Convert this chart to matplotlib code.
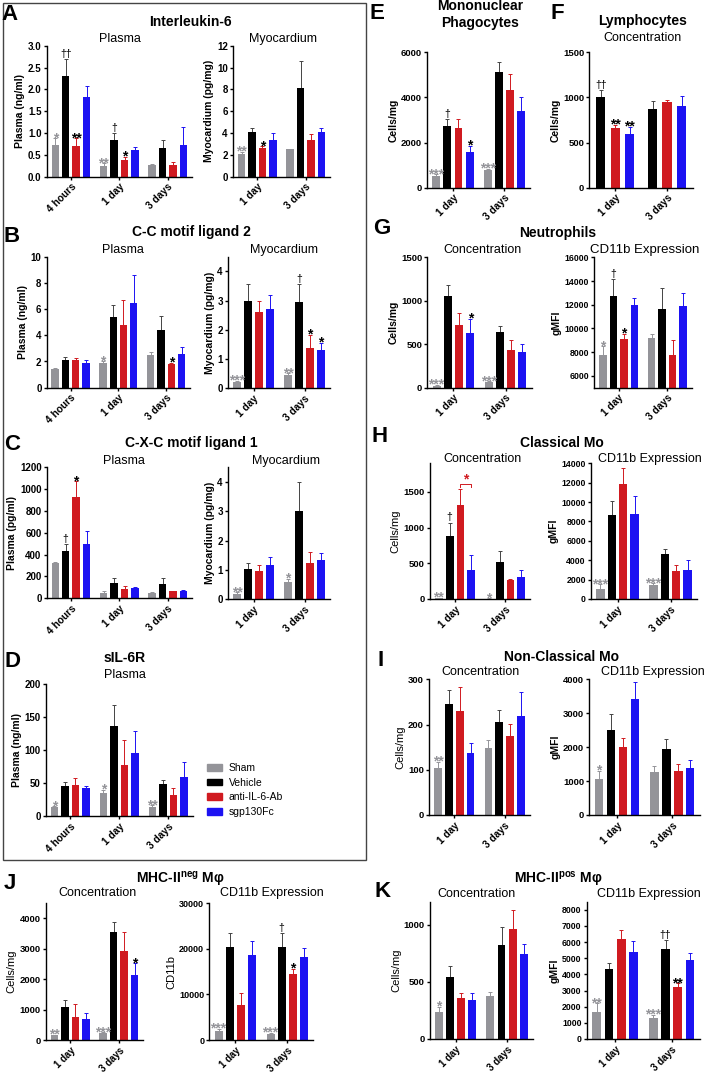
import matplotlib
matplotlib.use("Agg")
import matplotlib.pyplot as plt
from matplotlib.patches import Patch, Rectangle
import numpy as np

plt.rcParams['font.family'] = ['Liberation Sans', 'DejaVu Sans']
plt.rcParams['mathtext.fontset'] = 'custom'
plt.rcParams['mathtext.rm'] = 'Liberation Sans'
plt.rcParams['mathtext.bf'] = 'Liberation Sans:bold'

W, H = 706, 1072
fig = plt.figure(figsize=(W / 100, H / 100), dpi=100)

series = ["Sham", "Vehicle", "anti-IL-6-Ab", "sgp130Fc"]
colors = ["#949499", "#000000", "#d01a20", "#1c12f2"]

times3 = ["4 hours", "1 day", "3 days"]
times2 = ["1 day", "3 days"]

# ---- data: bar means and tops of error bars, per group [Sham, Vehicle, anti-IL-6-Ab, sgp130Fc]
a_plasma = [[0.73, 2.30, 0.70, 1.83], [0.24, 0.83, 0.39, 0.61], [0.26, 0.65, 0.27, 0.72]]
a_plasma_top = [[0.88, 2.70, 0.88, 2.07], [0.31, 1.00, 0.45, 0.69], [0.30, 0.85, 0.33, 1.13]]
a_myo = [[2.1, 4.1, 2.6, 3.4], [2.5, 8.15, 3.4, 4.1]]
a_myo_top = [[2.3, 4.5, 2.8, 4.0], [2.55, 10.6, 3.95, 4.5]]

b_plasma = [[1.4, 2.1, 2.1, 1.9], [1.85, 5.4, 4.8, 6.5], [2.5, 4.4, 1.8, 2.6]]
b_plasma_top = [[1.5, 2.35, 2.25, 2.15], [2.0, 6.3, 6.7, 8.6], [2.7, 5.5, 1.9, 3.1]]
b_myo = [[0.22, 3.0, 2.6, 2.7], [0.45, 2.95, 1.38, 1.3]]
b_myo_top = [[0.25, 3.55, 3.0, 3.2], [0.52, 3.55, 1.82, 1.55]]

c_plasma = [[325, 432, 928, 500], [51, 143, 85, 90], [46, 128, 64, 64]]
c_plasma_top = [[337, 495, 1072, 620], [67, 190, 115, 100], [58, 183, 70, 73]]
c_myo = [[0.18, 1.02, 0.95, 1.17], [0.57, 3.0, 1.22, 1.35]]
c_myo_top = [[0.24, 1.22, 1.15, 1.45], [0.70, 4.0, 1.62, 1.58]]

d_plasma = [[13, 45, 47, 42], [35, 136, 78, 95], [14, 48, 32, 59]]
d_plasma_top = [[15, 52, 57, 46], [40, 168, 115, 129], [16, 55, 42, 82]]

e_conc = [[520, 2750, 2650, 1570], [780, 5130, 4350, 3420]]
e_conc_top = [[600, 3050, 3050, 1850], [830, 5570, 5050, 4000]]

f_conc = [[1005, 665, 595], [870, 945, 910]]          # Vehicle, anti-IL-6-Ab, sgp130Fc
f_conc_top = [[1080, 700, 675], [965, 975, 1020]]

g_conc = [[25, 1060, 720, 630], [60, 640, 430, 415]]
g_conc_top = [[35, 1180, 860, 790], [75, 710, 545, 500]]
g_cd11b = [[7750, 12750, 9150, 12000], [9200, 11650, 7800, 11900]]
g_cd11b_top = [[8500, 14150, 9550, 12600], [9550, 13450, 9050, 12950]]

h_conc = [[10, 880, 1310, 400], [6, 520, 260, 305]]
h_conc_top = [[15, 1070, 1545, 615], [9, 670, 285, 400]]
h_cd11b = [[1050, 8700, 11850, 8800], [1400, 4600, 2900, 3000]]
h_cd11b_top = [[1500, 10100, 13500, 10650], [1600, 5200, 3500, 4000]]

i_conc = [[105, 246, 231, 136], [149, 206, 174, 219]]
i_conc_top = [[117, 276, 284, 159], [165, 232, 201, 272]]
i_cd11b = [[1050, 2520, 2000, 3420], [1260, 1940, 1310, 1380]]
i_cd11b_top = [[1300, 2970, 2260, 3920], [1440, 2230, 1490, 1610]]

j_conc = [[150, 1080, 750, 680], [240, 3570, 2930, 2140]]
j_conc_top = [[170, 1310, 1180, 880], [260, 3900, 3560, 2530]]
j_cd11b = [[1900, 20300, 7700, 18700], [1300, 20300, 14500, 18300]]
j_cd11b_top = [[2500, 23500, 10300, 21800], [1600, 23500, 15600, 20200]]

k_conc = [[235, 540, 355, 340], [375, 820, 965, 740]]
k_conc_top = [[280, 635, 400, 400], [410, 975, 1130, 830]]
k_cd11b = [[1700, 4350, 6180, 5400], [1330, 5550, 3200, 4880]]
k_cd11b_top = [[2200, 4700, 6750, 6080], [1500, 6100, 3450, 5320]]

# significance marks: (group index, series name, symbol)
a_plasma_sig = [(0, "Sham", "*"), (0, "Vehicle", "††"), (0, "anti-IL-6-Ab", "**"),
                (1, "Sham", "**"), (1, "Vehicle", "†"), (1, "anti-IL-6-Ab", "*")]
a_myo_sig = [(0, "Sham", "**"), (0, "anti-IL-6-Ab", "*")]
b_plasma_sig = [(1, "Sham", "*"), (2, "anti-IL-6-Ab", "*")]
b_myo_sig = [(0, "Sham", "***"), (1, "Sham", "**"), (1, "Vehicle", "†"),
             (1, "anti-IL-6-Ab", "*"), (1, "sgp130Fc", "*")]
c_plasma_sig = [(0, "Vehicle", "†"), (0, "anti-IL-6-Ab", "*")]
c_myo_sig = [(0, "Sham", "**"), (1, "Sham", "*")]
d_plasma_sig = [(0, "Sham", "*"), (1, "Sham", "*"), (2, "Sham", "**")]
e_sig = [(0, "Sham", "***"), (0, "Vehicle", "†"), (0, "sgp130Fc", "*"), (1, "Sham", "***")]
f_sig = [(0, "Vehicle", "††"), (0, "anti-IL-6-Ab", "**"), (0, "sgp130Fc", "**")]
g_conc_sig = [(0, "Sham", "***"), (0, "sgp130Fc", "*"), (1, "Sham", "***")]
g_cd11b_sig = [(0, "Sham", "*"), (0, "Vehicle", "†"), (0, "anti-IL-6-Ab", "*")]
h_conc_sig = [(0, "Sham", "**"), (0, "Vehicle", "†"), (1, "Sham", "*")]
h_cd11b_sig = [(0, "Sham", "***"), (1, "Sham", "***")]
i_conc_sig = [(0, "Sham", "**")]
i_cd11b_sig = [(0, "Sham", "*")]
j_conc_sig = [(0, "Sham", "**"), (1, "Sham", "***"), (1, "sgp130Fc", "*")]
j_cd11b_sig = [(0, "Sham", "***"), (1, "Sham", "***"), (1, "Vehicle", "†"), (1, "anti-IL-6-Ab", "*")]
k_conc_sig = [(0, "Sham", "*")]
k_cd11b_sig = [(0, "Sham", "**"), (1, "Sham", "***"), (1, "Vehicle", "††"), (1, "anti-IL-6-Ab", "**")]


def px_axes(l, t, r, b):
    return fig.add_axes([l / W, 1 - b / H, (r - l) / W, (b - t) / H])


def ftext(x, y, s, **kw):
    fig.text(x / W, 1 - y / H, s, ha=kw.pop('ha', 'center'), va=kw.pop('va', 'center'), **kw)


def panel(box, cats, means, tops, ylim, yticks, ylabel, sigs=(), names=series,
          tick_fs=7, xt_fs=7.3, yl_fs=7.5, yl_bold=True, fmt=None, xlim=None):
    ax = px_axes(*box)
    n = len(names)
    if n == 4:
        pitch, width = 0.215, 0.155
    else:
        pitch, width = 0.28, 0.18
    offs = (np.arange(n) - (n - 1) / 2) * pitch
    x = np.arange(len(cats))
    pos = {}
    for j, nm in enumerate(names):
        c = colors[series.index(nm)]
        m = np.array([g[j] for g in means], float)
        tp = np.array([g[j] for g in tops], float)
        ax.bar(x + offs[j], m, width, color=c, zorder=2, linewidth=0)
        ecol = '#444444' if nm == "Vehicle" else c
        ax.errorbar(x + offs[j], m, yerr=[np.zeros_like(m), tp - m], fmt='none', ecolor=ecol,
                    elinewidth=0.7, capsize=1.3, capthick=0.7, zorder=1)
        for gi in range(len(cats)):
            pos[(gi, nm)] = (x[gi] + offs[j], tp[gi])
    for gi, nm, sym in sigs:
        xx, yy = pos[(gi, nm)]
        col = colors[0] if nm == "Sham" else "black"
        if "†" in sym:
            ax.annotate(sym, (xx, yy), xytext=(0, 1.6), textcoords='offset points',
                        ha='center', va='baseline', fontsize=7.5, color=col, annotation_clip=False)
        else:
            ax.annotate(sym, (xx, yy), xytext=(0, -2.8), textcoords='offset points',
                        ha='center', va='baseline', fontsize=10, fontweight='bold', color=col,
                        annotation_clip=False)
    ax.set_ylim(*ylim)
    ax.set_yticks(yticks)
    if fmt:
        ax.set_yticklabels([fmt.format(v) for v in yticks])
    ax.set_xticks(x)
    ax.set_xticklabels(cats, rotation=45, ha='right', rotation_mode='anchor',
                       fontsize=xt_fs, fontweight='bold')
    if xlim is None:
        xlim = (-0.5, len(cats) - 0.5)
    ax.set_xlim(*xlim)
    for s in ('top', 'right'):
        ax.spines[s].set_visible(False)
    for s in ('left', 'bottom'):
        ax.spines[s].set_linewidth(1.0)
    ax.tick_params(axis='both', length=2.5, width=1.0, pad=1.2)
    ax.tick_params(axis='y', labelsize=tick_fs)
    for lab in ax.get_yticklabels():
        lab.set_fontweight('bold')
    ax.set_ylabel(ylabel, fontsize=yl_fs, fontweight='bold' if yl_bold else 'normal', labelpad=2)
    return ax, pos


# ---------- outer box around A-D
fig.patches.append(Rectangle((2.5 / W, 1 - 859.5 / H), (366 - 2.5) / W, (859.5 - 3) / H,
                             transform=fig.transFigure, fill=False, edgecolor='#444444',
                             linewidth=1.0))

# ---------- A
panel((46.7, 45.7, 192, 176.7), times3, a_plasma, a_plasma_top, (0, 3), np.arange(0, 3.01, 0.5),
      "Plasma (ng/ml)", a_plasma_sig, fmt="{:.1f}")
panel((233, 45.7, 330, 176.7), times2, a_myo, a_myo_top, (0, 12), np.arange(0, 13, 2),
      "Myocardium (pg/mg)", a_myo_sig)
ftext(10, 15, "A", fontsize=16, fontweight='bold')
ftext(190, 21.7, "Interleukin-6", fontsize=10, fontweight='bold')
ftext(120, 39.3, "Plasma", fontsize=9)
ftext(283, 39.3, "Myocardium", fontsize=9)

# ---------- B
panel((46.7, 256.7, 190, 387.7), times3, b_plasma, b_plasma_top, (0, 10), np.arange(0, 11, 2),
      "Plasma (ng/ml)", b_plasma_sig)
panel((228, 256.7, 330, 388.3), times2, b_myo, b_myo_top, (0, 4.5), np.arange(0, 5, 1),
      "Myocardium (pg/mg)", b_myo_sig)
ftext(12, 236.7, "B", fontsize=16, fontweight='bold')
ftext(191.7, 231.7, "C-C motif ligand 2", fontsize=10, fontweight='bold')
ftext(123.3, 250, "Plasma", fontsize=9)
ftext(284, 250, "Myocardium", fontsize=9)

# ---------- C
panel((46.7, 467.3, 192, 598.3), times3, c_plasma, c_plasma_top, (0, 1200), np.arange(0, 1201, 200),
      "Plasma (pg/ml)", c_plasma_sig)
panel((228, 467.3, 330, 599.2), times2, c_myo, c_myo_top, (0, 4.5), np.arange(0, 5, 1),
      "Myocardium (pg/mg)", c_myo_sig)
ftext(12, 444.3, "C", fontsize=16, fontweight='bold')
ftext(191.7, 443.3, "C-X-C motif ligand 1", fontsize=10, fontweight='bold')
ftext(124, 460.7, "Plasma", fontsize=9)
ftext(286, 460.7, "Myocardium", fontsize=9)

# ---------- D
panel((45.7, 684, 192.7, 816), times3, d_plasma, d_plasma_top, (0, 200), np.arange(0, 201, 50),
      "Plasma (ng/ml)", d_plasma_sig)
ftext(12, 661.7, "D", fontsize=16, fontweight='bold')
ftext(125, 658.3, "sIL-6R", fontsize=10, fontweight='bold')
ftext(125, 675, "Plasma", fontsize=9)
fig.legend(handles=[Patch(color=c, label=s) for c, s in zip(colors, series)],
           loc='upper left', bbox_to_anchor=(207 / W, 1 - 763 / H), frameon=False,
           fontsize=7.5, handlelength=1.4, handleheight=0.6, labelspacing=0.45,
           handletextpad=0.7, borderpad=0, borderaxespad=0)

# ---------- E
panel((427.3, 52.3, 530, 187.7), times2, e_conc, e_conc_top, (0, 6000), np.arange(0, 6001, 2000),
      "Cells/mg", e_sig, tick_fs=6.8)
ftext(377, 13.3, "E", fontsize=16, fontweight='bold')
ftext(480, 6, "Mononuclear", fontsize=10, fontweight='bold')
ftext(480, 23.3, "Phagocytes", fontsize=10, fontweight='bold')

# ---------- F
panel((589.3, 52.3, 693, 187.7), times2, f_conc, f_conc_top, (0, 1500), np.arange(0, 1501, 500),
      "Cells/mg", f_sig, names=series[1:], tick_fs=6.8)
ftext(557, 13.3, "F", fontsize=16, fontweight='bold')
ftext(643, 21, "Lymphocytes", fontsize=10, fontweight='bold')
ftext(643, 38.3, "Concentration", fontsize=9)

# ---------- G
panel((427.3, 257.3, 531.7, 387.7), times2, g_conc, g_conc_top, (0, 1500), np.arange(0, 1501, 500),
      "Cells/mg", g_conc_sig, tick_fs=6.8)
panel((594.3, 257.3, 691.7, 387.7), times2, g_cd11b, g_cd11b_top, (5000, 16000),
      np.arange(6000, 16001, 2000), "gMFI", g_cd11b_sig, tick_fs=6.3)
ftext(382, 228.3, "G", fontsize=16, fontweight='bold')
ftext(558, 232.7, "Neutrophils", fontsize=10, fontweight='bold')
ftext(482.7, 250, "Concentration", fontsize=9)
ftext(645, 250, "CD11b Expression", fontsize=9.5)

# ---------- H
axh, posh = panel((430, 463.3, 530, 599), times2, h_conc, h_conc_top, (0, 1900), np.arange(0, 1501, 500),
                  "Cells/mg", h_conc_sig, tick_fs=6.8, yl_bold=False, yl_fs=8)
x1 = posh[(0, "anti-IL-6-Ab")][0]
x2 = posh[(0, "sgp130Fc")][0]
axh.plot([x1, x1, x2, x2], [1570, 1615, 1615, 1570], color=colors[2], lw=0.7, clip_on=False)
axh.text((x1 + x2) / 2, 1615, "*", ha='center', va='baseline', color=colors[2],
         fontsize=10, fontweight='bold')
panel((591, 463.3, 697, 599), times2, h_cd11b, h_cd11b_top, (0, 14000), np.arange(0, 14001, 2000),
      "gMFI", h_cd11b_sig, tick_fs=6.3)
ftext(380, 436.7, "H", fontsize=16, fontweight='bold')
ftext(561.7, 442.7, "Classical Mo", fontsize=10, fontweight='bold')
ftext(482.3, 459.3, "Concentration", fontsize=9)
ftext(650, 459.3, "CD11b Expression", fontsize=9)

# ---------- I
panel((429, 679.3, 530, 815), times2, i_conc, i_conc_top, (0, 300), np.arange(0, 301, 100),
      "Cells/mg", i_conc_sig, tick_fs=6.8, yl_bold=False, yl_fs=8)
panel((589.3, 679.3, 700, 815), times2, i_cd11b, i_cd11b_top, (0, 4000), np.arange(0, 4001, 1000),
      "gMFI", i_cd11b_sig, tick_fs=6.8)
ftext(381, 660, "I", fontsize=16, fontweight='bold')
ftext(561.7, 656.7, "Non-Classical Mo", fontsize=10, fontweight='bold')
ftext(480, 672.3, "Concentration", fontsize=9)
ftext(653, 672.3, "CD11b Expression", fontsize=9)

# ---------- J
panel((45.7, 903.3, 143.3, 1040), times2, j_conc, j_conc_top, (0, 4500), np.arange(0, 4001, 1000),
      "Cells/mg", j_conc_sig, tick_fs=6.8, yl_bold=False, yl_fs=8, xt_fs=7)
panel((209.3, 903.3, 313.3, 1040), times2, j_cd11b, j_cd11b_top, (0, 30000), np.arange(0, 30001, 10000),
      "CD11b", j_cd11b_sig, tick_fs=6.5, yl_bold=False, yl_fs=8, xt_fs=7)
ftext(10, 883.3, "J", fontsize=16, fontweight='bold')
ftext(180, 879.3, r"MHC-II$^{\mathregular{neg}}$ Mφ", fontsize=10, fontweight='bold')
ftext(97.7, 893.3, "Concentration", fontsize=9)
ftext(271.7, 893.3, "CD11b Expression", fontsize=9)

# ---------- K
panel((430, 901.7, 532.7, 1039), times2, k_conc, k_conc_top, (0, 1200), np.arange(0, 1001, 500),
      "Cells/mg", k_conc_sig, tick_fs=6.8, yl_bold=False, yl_fs=8, xt_fs=7)
panel((586.7, 901.7, 700, 1039), times2, k_cd11b, k_cd11b_top, (0, 8500), np.arange(0, 8001, 1000),
      "gMFI", k_cd11b_sig, tick_fs=6.3, xt_fs=7)
ftext(383, 891.7, "K", fontsize=16, fontweight='bold')
ftext(558, 879.3, r"MHC-II$^{\mathregular{pos}}$ Mφ", fontsize=10, fontweight='bold')
ftext(476.7, 894, "Concentration", fontsize=9)
ftext(649, 894, "CD11b Expression", fontsize=9)

fig.savefig("out.png", dpi=100)
